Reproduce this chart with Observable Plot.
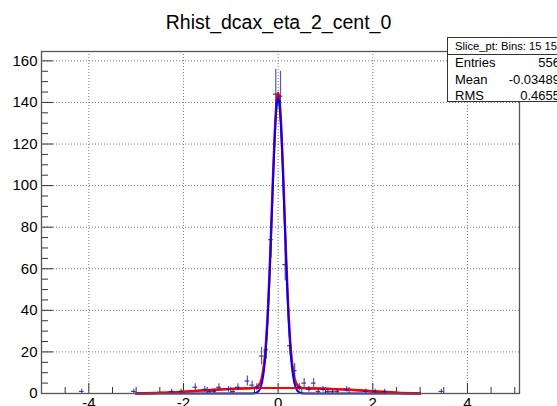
<!DOCTYPE html>
<html>
<head>
<meta charset="utf-8">
<script src="https://cdn.jsdelivr.net/npm/d3@7"></script>
<script src="https://cdn.jsdelivr.net/npm/@observablehq/plot@0.6"></script>
<style>
  html, body { margin: 0; padding: 0; background: #fff; overflow: hidden; }
  #wrap { position: relative; width: 557px; height: 406px; overflow: hidden; font-family: "Liberation Sans", Arial, sans-serif; }
  #title { position: absolute; left: 0; top: 12.5px; width: 557px; text-align: center; font-size: 19.5px; line-height: 1; color: #000; }
  #stats { position: absolute; left: 447px; top: 37px; width: 125px; height: 65px; background: #fff; border: 1px solid #333; box-sizing: border-box; color: #000; }
  #stats .hdr { height: 16px; border-bottom: 1px solid #333; font-size: 11.2px; line-height: 16px; padding-left: 7px; white-space: nowrap; }
  #stats .row { position: relative; height: 16.5px; font-size: 13px; line-height: 16.5px; white-space: nowrap; }
  #stats .row .k { position: absolute; left: 7px; }
  #stats .row .v { position: absolute; right: 11px; }
</style>
</head>
<body>
<div id="wrap">
  <div id="chart"></div>
  <div id="title">Rhist_dcax_eta_2_cent_0</div>
  <div id="stats">
    <div class="hdr">Slice_pt: Bins: 15 15</div>
    <div class="row"><span class="k">Entries</span><span class="v">556</span></div>
    <div class="row"><span class="k">Mean</span><span class="v">-0.03489</span></div>
    <div class="row"><span class="k">RMS</span><span class="v">0.4655</span></div>
  </div>
</div>
<script>
// ---- histogram (bin centres, counts), bin width 0.1 ----
const binCenters = [-4.15,-3.05,-2.25,-2.05,-1.75,-1.55,-1.45,-1.35,-1.25,-1.05,-0.95,-0.85,-0.65,-0.55,-0.45,-0.35,-0.25,-0.15,-0.05,0.05,0.15,0.25,0.35,0.45,0.55,0.65,0.75,0.85,0.95,1.05,1.15,1.25,1.45,1.85,2.05,2.25,3.45];
const binCounts  = [1,1,1,1,3,2,1,1,3,2,1,3,6,4,3,18,21,74,144,143,62,23,11,3,5,2,5,1,2,1,1,1,2,1,1,1,1];
const binWidth = 0.1;

// ---- narrow (blue) fit component ----
const narrowX = [-3,-0.6,-0.5,-0.45,-0.4,-0.35,-0.3,-0.275,-0.25,-0.225,-0.2,-0.175,-0.15,-0.125,-0.1,-0.075,-0.05,-0.025,0,0.025,0.05,0.075,0.1,0.125,0.15,0.175,0.2,0.225,0.25,0.275,0.3,0.35,0.4,0.45,0.5,0.6,3];
const narrowY = [0,0,0.1,0.5,1.5,4.4,11.2,16.7,24.3,33.9,45.9,59.8,75.2,91.3,107,121.1,132.3,139.5,142,139.5,132.3,121.1,107,91.3,75.2,59.8,45.9,33.9,24.3,16.7,11.2,4.4,1.5,0.5,0.1,0,0];

// ---- broad (red) fit component ----
const broadX = [-3,-2.5,-2,-1.5,-1,-0.5,0,0.5,1,1.5,2,2.5,3];
const broadY = [0.05,0.35,0.9,1.6,2.2,2.6,2.7,2.6,2.3,1.8,1.1,0.35,0.05];

// ---- total (red) fit ----
const totalX = [-3,-2.5,-2,-1.5,-1,-0.6,-0.5,-0.45,-0.4,-0.35,-0.3,-0.275,-0.25,-0.225,-0.2,-0.175,-0.15,-0.125,-0.1,-0.075,-0.05,-0.025,0,0.025,0.05,0.075,0.1,0.125,0.15,0.175,0.2,0.225,0.25,0.275,0.3,0.35,0.4,0.45,0.5,0.6,1,1.5,2,2.5,3];
const totalY = [0.05,0.35,0.9,1.6,2.2,2.55,2.7,3.1,4.2,7.1,13.9,19.4,27.0,36.6,48.6,62.5,77.9,94.0,109.7,123.8,135.0,142.2,144.7,142.2,135.0,123.8,109.7,94.0,77.9,62.5,48.6,36.6,27.0,19.4,13.9,7.1,4.2,3.1,2.7,2.55,2.3,1.8,1.1,0.35,0.05];

// ---- axes ----
const xMajor = [-4,-2,0,2,4];
const xMinor = [-5,-4.5,-3.5,-3,-2.5,-1.5,-1,-0.5,0.5,1,1.5,2.5,3,3.5,4.5,5];
const yMajor = [0,20,40,60,80,100,120,140,160];
const yMinor = [5,10,15,25,30,35,45,50,55,65,70,75,85,90,95,105,110,115,125,130,135,145,150,155];

const hist = binCenters.map((x, i) => ({x, n: binCounts[i], e: Math.sqrt(binCounts[i])}));
const narrow = narrowX.map((x, i) => ({x, y: narrowY[i]}));
const broad = broadX.map((x, i) => ({x, y: broadY[i]}));
const total = totalX.map((x, i) => ({x, y: totalY[i]}));

const W = 557, H = 406, mL = 41, mR = 38, mT = 51, mB = 13;
const pw = W - mL - mR, ph = H - mT - mB;
const histColor = "#1c1caa";

const chart = Plot.plot({
  width: W, height: H,
  marginLeft: mL, marginRight: mR, marginTop: mT, marginBottom: mB,
  x: {domain: [-5, 5.1]},
  y: {domain: [0, 164.5]},
  style: {fontFamily: "'Liberation Sans', Arial, sans-serif", fontSize: "15px", background: "#fff", color: "#000", overflow: "visible"},
  marks: [
    Plot.ruleX(xMajor, {x: d => d, stroke: "#777", strokeDasharray: "1,2"}),
    Plot.ruleY(yMajor.filter(d => d > 0), {y: d => d, stroke: "#777", strokeDasharray: "1,2"}),
    Plot.tickY(yMajor, {y: d => d, insetRight: pw - 12, stroke: "#333"}),
    Plot.tickY(yMinor, {y: d => d, insetRight: pw - 7, stroke: "#333"}),
    Plot.tickX(xMajor, {x: d => d, insetTop: ph - 10, stroke: "#333"}),
    Plot.tickX(xMinor, {x: d => d, insetTop: ph - 6, stroke: "#333"}),
    Plot.axisX(xMajor, {tickSize: 0, tickPadding: 4, fontSize: 15, label: null, tickFormat: d => String(d)}),
    Plot.axisY(yMajor, {tickSize: 0, tickPadding: 4, fontSize: 15, label: null, tickFormat: d => String(d)}),
    Plot.line(total, {x: "x", y: "y", stroke: "#ff0000", strokeWidth: 2.4, curve: "catmull-rom"}),
    Plot.line(narrow, {x: "x", y: "y", stroke: "#0000ff", strokeWidth: 2, curve: "catmull-rom"}),
    Plot.line(broad, {x: "x", y: "y", stroke: "#ff0000", strokeWidth: 2, curve: "catmull-rom"}),
    Plot.ruleX(hist, {x: "x", y1: d => d.n - d.e, y2: d => d.n + d.e, stroke: histColor, strokeWidth: 1.2, strokeOpacity: 0.75}),
    Plot.ruleY(hist, {y: "n", x1: d => d.x - binWidth / 2, x2: d => d.x + binWidth / 2, stroke: histColor, strokeWidth: 1.2, strokeOpacity: 0.85}),
    Plot.frame({stroke: "#555", strokeWidth: 1.3})
  ]
});
document.getElementById("chart").appendChild(chart);
</script>
</body>
</html>
